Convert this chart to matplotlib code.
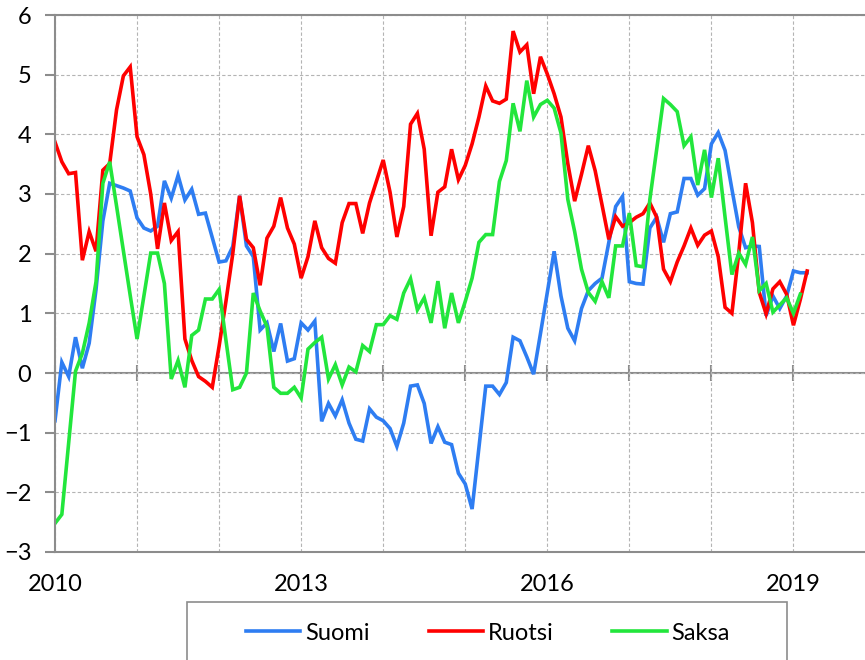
import numpy as np
import matplotlib
matplotlib.use("Agg")
import matplotlib.pyplot as plt
from matplotlib.patches import Rectangle

plt.rcParams['font.family'] = ['Lato', 'DejaVu Sans']

# kuukausittaiset arvot, tammikuu 2010 ->
suomi = [-0.80, 0.18, -0.06, 0.60, 0.08, 0.50, 1.40, 2.55, 3.18, 3.14, 3.10, 3.05,
         2.60, 2.43, 2.38, 2.46, 3.22, 2.93, 3.31, 2.90, 3.08, 2.66, 2.68, 2.27,
         1.86, 1.88, 2.12, 2.97, 2.13, 1.95, 0.72, 0.84, 0.36, 0.83, 0.20, 0.24,
         0.84, 0.72, 0.87, -0.81, -0.51, -0.72, -0.45, -0.84, -1.11, -1.14, -0.60, -0.74,
         -0.80, -0.93, -1.23, -0.84, -0.22, -0.20, -0.51, -1.18, -0.90, -1.16, -1.20, -1.68,
         -1.86, -2.28, -1.25, -0.22, -0.22, -0.36, -0.16, 0.60, 0.54, 0.27, -0.02, 0.66,
         1.35, 2.04, 1.29, 0.75, 0.54, 1.08, 1.38, 1.50, 1.59, 2.19, 2.79, 2.96,
         1.53, 1.50, 1.49, 2.43, 2.61, 2.19, 2.67, 2.70, 3.26, 3.26, 2.98, 3.09,
         3.84, 4.03, 3.73, 3.08, 2.45, 2.10, 2.13, 2.12, 0.96, 1.29, 1.08, 1.29,
         1.71, 1.68, 1.68]

ruotsi = [3.87, 3.54, 3.34, 3.36, 1.89, 2.37, 2.04, 3.40, 3.51, 4.41, 4.98, 5.13,
          3.96, 3.66, 3.00, 2.08, 2.85, 2.22, 2.37, 0.57, 0.21, -0.06, -0.14, -0.24,
          0.45, 1.20, 2.00, 2.97, 2.24, 2.10, 1.47, 2.26, 2.46, 2.94, 2.43, 2.16,
          1.59, 1.95, 2.55, 2.10, 1.92, 1.84, 2.52, 2.84, 2.84, 2.34, 2.85, 3.21,
          3.57, 3.03, 2.28, 2.79, 4.17, 4.35, 3.75, 2.30, 3.03, 3.12, 3.75, 3.24,
          3.48, 3.84, 4.29, 4.81, 4.56, 4.52, 4.59, 5.73, 5.38, 5.50, 4.68, 5.30,
          5.01, 4.68, 4.29, 3.51, 2.88, 3.33, 3.81, 3.39, 2.82, 2.24, 2.62, 2.46,
          2.52, 2.61, 2.67, 2.85, 2.61, 1.74, 1.53, 1.86, 2.13, 2.43, 2.14, 2.31,
          2.38, 1.95, 1.10, 1.00, 2.01, 3.18, 2.52, 1.35, 0.99, 1.41, 1.53, 1.32,
          0.80, 1.23, 1.71]

saksa = [-2.52, -2.37, -1.17, 0.03, 0.33, 0.84, 1.53, 3.18, 3.54, 2.80, 2.05, 1.30,
         0.57, 1.29, 2.01, 2.01, 1.50, -0.10, 0.21, -0.24, 0.63, 0.72, 1.24, 1.24,
         1.40, 0.55, -0.28, -0.24, 0.00, 1.34, 1.04, 0.78, -0.24, -0.34, -0.34, -0.24,
         -0.42, 0.40, 0.51, 0.60, -0.10, 0.14, -0.20, 0.10, 0.02, 0.46, 0.36, 0.81,
         0.81, 0.96, 0.90, 1.34, 1.58, 1.06, 1.26, 0.84, 1.54, 0.75, 1.34, 0.84,
         1.20, 1.59, 2.19, 2.32, 2.32, 3.21, 3.56, 4.52, 4.05, 4.90, 4.29, 4.50,
         4.57, 4.44, 4.02, 2.91, 2.37, 1.74, 1.35, 1.20, 1.53, 1.26, 2.13, 2.13,
         2.68, 1.80, 1.78, 2.91, 3.75, 4.60, 4.50, 4.38, 3.81, 3.96, 3.15, 3.74,
         2.94, 3.60, 2.61, 1.65, 2.01, 1.82, 2.28, 1.38, 1.50, 1.02, 1.14, 1.26,
         1.00, 1.32]

sarjat = [("Suomi", suomi, "#2E7DF2"), ("Ruotsi", ruotsi, "#FF0000"), ("Saksa", saksa, "#22E63C")]
vuodet = list(range(2010, 2020))
vuosi_nimet = ["2010", "", "", "2013", "", "", "2016", "", "", "2019"]

harmaa = "#8C8C8C"

fig = plt.figure(figsize=(8.65, 6.6), dpi=100)
ax = fig.add_axes([55 / 865, 108 / 660, 810 / 865, 537 / 660])

for nimi, arvot, vari in sarjat:
    x = 2010 + np.arange(len(arvot)) / 12
    ax.plot(x, arvot, color=vari, lw=2.6, label=nimi, solid_joinstyle='miter')

ax.set_xlim(2010, 2010 + 810 / 82.05)
ax.set_ylim(-3, 6)
ax.set_yticks(range(-3, 7))
ax.set_xticks(vuodet)
ax.set_xticklabels(vuosi_nimet)

ax.grid(True, color="#B4B4B4", lw=0.8, linestyle=(0, (3, 2)))
ax.set_axisbelow(True)

for s in ["left", "top", "bottom"]:
    ax.spines[s].set_color(harmaa)
    ax.spines[s].set_linewidth(1.5)
ax.spines["right"].set_visible(False)

ax.tick_params(axis="y", direction="out", length=7, width=1.5, color=harmaa,
               labelsize=17, pad=10)
ax.tick_params(axis="x", length=0, labelsize=17, pad=16)

# nollaviiva ja sen vuosimerkit
nolla = ax.secondary_xaxis(1 / 3)
nolla.set_xticks(vuodet)
nolla.set_xticklabels([])
nolla.spines["bottom"].set_color(harmaa)
nolla.spines["bottom"].set_linewidth(1.5)
nolla.tick_params(direction="inout", length=12, width=1.5, color=harmaa)

fig.patches.append(Rectangle((187 / 865, -0.05), 600 / 865, 0.05 + 58 / 660,
                             transform=fig.transFigure, fill=False,
                             edgecolor=harmaa, lw=1.2))
fig.legend(loc="center", bbox_to_anchor=(488 / 865, 1 - 633 / 660), ncol=3,
           frameon=False, fontsize=17, handlelength=2.3, handletextpad=0.2,
           columnspacing=2.5)

fig.savefig("out.png", dpi=100)
